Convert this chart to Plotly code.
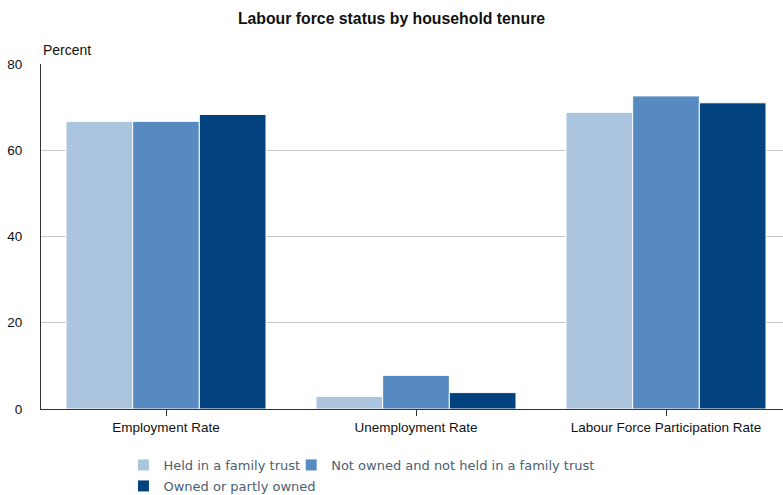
import plotly.graph_objects as go

categories = ["Employment Rate", "Unemployment Rate", "Labour Force Participation Rate"]
series_names = ["Held in a family trust", "Not owned and not held in a family trust", "Owned or partly owned"]
held_in_trust = [66.7, 2.9, 68.8]
not_owned = [66.7, 7.8, 72.6]
owned = [68.3, 3.8, 71.0]
colors = ["#abc5df", "#578ac1", "#02427f"]
y_ticks = [0, 20, 40, 60, 80]

fig = go.Figure()
for name, vals, col, lg in zip(series_names, [held_in_trust, not_owned, owned], colors,
                                ["legend", "legend3", "legend2"]):
    fig.add_trace(go.Bar(x=categories, y=vals, name=name, marker_color=col,
                         marker_line_color="white", marker_line_width=1, legend=lg))

leg_font = dict(family="DejaVu Sans", size=13, color="#4d5e72")
fig.update_layout(
    width=783, height=495,
    showlegend=True,
    margin=dict(l=41, r=0, t=64, b=86, autoexpand=False),
    plot_bgcolor="white", paper_bgcolor="white",
    barmode="group", bargap=0.2, bargroupgap=0,
    title=dict(text="<b>Labour force status by household tenure</b>", x=0.5, xanchor="center",
               y=1 - 18 / 495, yanchor="middle",
               font=dict(family="Liberation Sans, Arial", size=15.8, color="#111")),
    font=dict(family="Liberation Sans, Arial", size=13.5, color="#111"),
    xaxis=dict(range=[-0.5, 2.468], showline=True, linecolor="#333", linewidth=1,
               ticks="outside", ticklen=6, tickcolor="#333", showgrid=False,
               tickfont=dict(size=13.5, color="#111")),
    yaxis=dict(range=[0, 80], tickvals=y_ticks, showgrid=True, gridcolor="#c8c8c8",
               showline=True, linecolor="#333", linewidth=1, zeroline=False,
               ticks="outside", ticklen=15, tickcolor="rgba(0,0,0,0)",
               tickfont=dict(size=13.5, color="#111")),
    legend=dict(orientation="h", x=87 / 783, xanchor="left", y=-56 / 345, yanchor="middle",
                font=leg_font, bgcolor="rgba(0,0,0,0)", visible=True),
    legend3=dict(orientation="h", x=264 / 783, xanchor="left", y=-56 / 345, yanchor="middle",
                 font=leg_font, bgcolor="rgba(0,0,0,0)"),
    legend2=dict(orientation="h", x=87 / 783, xanchor="left", y=-77 / 345, yanchor="middle",
                 font=leg_font, bgcolor="rgba(0,0,0,0)"),
    annotations=[dict(text="Percent", xref="paper", yref="paper", x=0, y=1, xanchor="left",
                      yanchor="bottom", yshift=4, showarrow=False,
                      font=dict(family="Liberation Sans, Arial", size=14, color="#111"))],
)

fig.write_html("out.html")
